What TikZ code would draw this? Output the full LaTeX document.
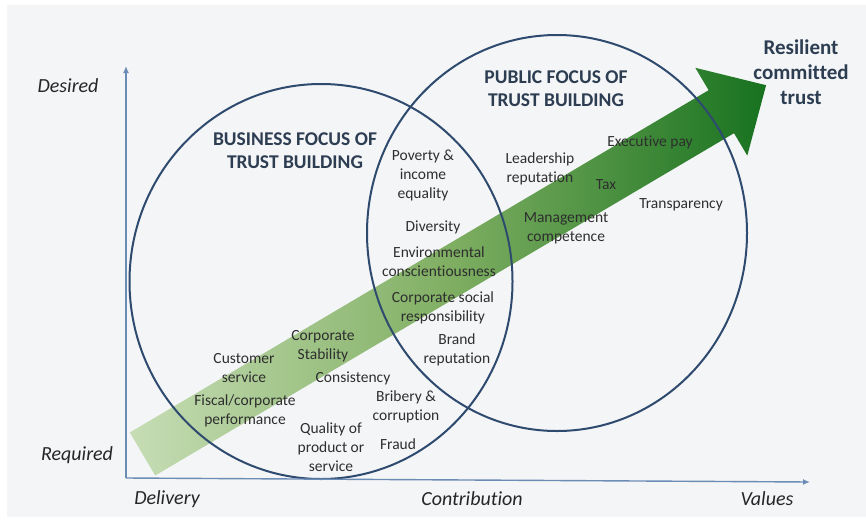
\documentclass[tikz,border=0pt]{standalone}
\usepackage{fontspec}
\setmainfont{Carlito}[Ligatures={NoCommon}]
\usetikzlibrary{arrows.meta}

\definecolor{paper}{HTML}{F4F5F7}
\definecolor{axisblue}{HTML}{6A8CB5}
\definecolor{ringblue}{HTML}{2E4A6E}
\definecolor{titlecol}{HTML}{2D3D52}
\definecolor{bodycol}{HTML}{2E2E2E}
\definecolor{greenlight}{HTML}{C7DDB5}
\definecolor{greenmid}{HTML}{80AF63}
\definecolor{greendark}{HTML}{17721F}

\begin{document}
\begin{tikzpicture}[x=1pt,y=-1pt,
  lbl/.style={font=\fontsize{15.5}{19}\selectfont, text=bodycol, align=center, inner sep=0pt},
  ttl/.style={font=\bfseries\fontsize{19.5}{23}\selectfont, text=titlecol, align=center, inner sep=0pt},
  res/.style={font=\bfseries\fontsize{21}{25}\selectfont, text=titlecol, align=center, inner sep=0pt},
  axl/.style={font=\itshape\fontsize{20}{24}\selectfont, text=black!85, inner sep=0pt},
  ring/.style={draw=ringblue, line width=2pt},
  axisline/.style={draw=axisblue, line width=1.4pt, -{Latex[length=7pt,width=6pt]}},
]
\useasboundingbox (0,0) rectangle (866,527);
\fill[white] (0,0) rectangle (866,527);
\fill[paper] (7,5) rectangle (866,517);

% rising green arrow: from required delivery to resilient trust
\shade[left color=greenlight, right color=greendark, middle color=greenmid]
  (129.8,432.5) -- (708.6,90.2) -- (695.3,67.8) -- (766.1,85.2)
  -- (747.3,155.6) -- (734.0,133.2) -- (155.2,475.5) -- cycle;

% the two overlapping focus areas
\draw[ring] (321,281.5) ellipse [x radius=191.5, y radius=197.5];
\draw[ring] (557,233) ellipse [x radius=190, y radius=198];

% axes
\coordinate (origin) at (126,478);
\coordinate (ytop) at (126,66);
\coordinate (xend) at (810,482);
\draw[axisline] (origin) -- (ytop);
\draw[axisline] (origin) -- (xend);

% axis labels
\node[axl] (desired) at (68,86) {Desired};
\node[axl] (required) at (77,455) {Required};
\node[axl] (delivery) at (167,499) {Delivery};
\node[axl] (contribution) at (472,499) {Contribution};
\node[axl] (values) at (767,499) {Values};

% headings
\node[ttl] (business) at (295,151) {BUSINESS FOCUS OF\\TRUST BUILDING};
\node[ttl] (public) at (556,89) {PUBLIC FOCUS OF\\TRUST BUILDING};
\node[res] (resilient) at (801,72) {Resilient\\committed\\trust};

% overlap items
\node[lbl] (poverty) at (423,175) {Poverty \&\\income\\equality};
\node[lbl] (diversity) at (433,227) {Diversity};
\node[lbl] (environ) at (439,262) {Environmental\\conscientiousness};
\node[lbl] (csr) at (443,308) {Corporate social\\responsibility};
\node[lbl] (brand) at (457,350) {Brand\\reputation};

% public items
\node[lbl] (leadership) at (540,169) {Leadership\\reputation};
\node[lbl] (execpay) at (650,142) {Executive pay};
\node[lbl] (tax) at (606,185) {Tax};
\node[lbl] (transparency) at (681,205) {Transparency};
\node[lbl] (management) at (566,228) {Management\\competence};

% business items
\node[lbl] (stability) at (323,346) {Corporate\\Stability};
\node[lbl] (customer) at (244,368) {Customer\\service};
\node[lbl] (consistency) at (353,378) {Consistency};
\node[lbl] (fiscal) at (245,411) {Fiscal/corporate\\performance};
\node[lbl] (bribery) at (406,407) {Bribery \&\\corruption};
\node[lbl] (quality) at (331,447) {Quality of\\product or\\service};
\node[lbl] (fraud) at (398,444) {Fraud};
\end{tikzpicture}
\end{document}
